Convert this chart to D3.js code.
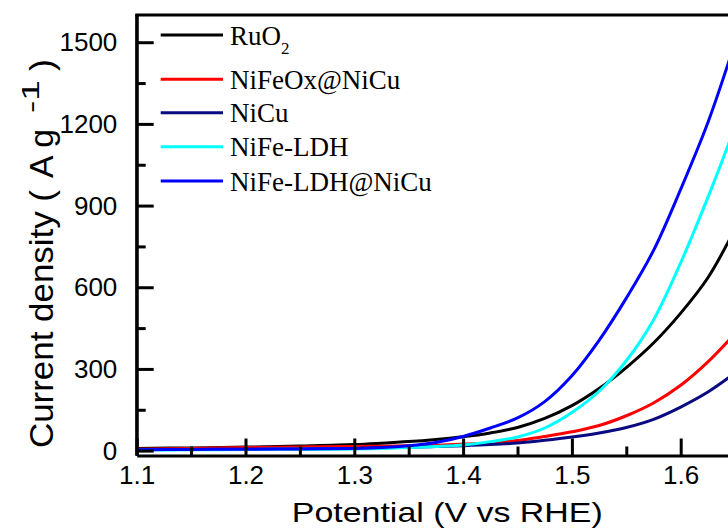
<!DOCTYPE html>
<html>
<head>
<meta charset="utf-8">
<script src="https://cdn.jsdelivr.net/npm/d3@7"></script>
<style>
  html, body { margin: 0; padding: 0; background: #fff; }
  svg { display: block; }
</style>
</head>
<body>
<svg id="chart" width="728" height="532"></svg>
<script>
// ---- data ----
const potential = [1.10, 1.15, 1.20, 1.25, 1.30, 1.325, 1.35, 1.375, 1.40, 1.425, 1.45, 1.475, 1.50, 1.525, 1.55, 1.575, 1.60, 1.625, 1.65];
const ruo2      = [8, 10, 13, 17, 22, 27, 33, 41, 51, 65, 85, 118, 165, 228, 305, 395, 505, 635, 815];
const nifeoxNiCu= [5, 8, 11, 13, 15, 16, 18, 20, 24, 28, 37, 52, 69, 92, 128, 175, 240, 326, 430];
const nicu      = [3, 4, 5, 6, 8, 10, 12, 15, 18, 22, 28, 38, 50, 65, 85, 115, 160, 215, 285];
const nifeLdh   = [2, 3, 4, 5, 6, 8, 11, 15, 21, 33, 50, 83, 140, 218, 330, 480, 690, 930, 1190];
const nifeLdhNiCu=[3, 4, 5, 6, 8, 11, 18, 30, 52, 83, 120, 180, 275, 405, 560, 735, 960, 1205, 1500];

const seriesNames  = ["RuO2", "NiFeOx@NiCu", "NiCu", "NiFe-LDH", "NiFe-LDH@NiCu"];
const seriesValues = [ruo2, nifeoxNiCu, nicu, nifeLdh, nifeLdhNiCu];
const seriesColors = ["#000000", "#ff0000", "#0a0a80", "#00ffff", "#0000ff"];

const xMajorTicks = [1.1, 1.2, 1.3, 1.4, 1.5, 1.6];
const xMinorTicks = [1.15, 1.25, 1.35, 1.45, 1.55, 1.65];
const yMajorTicks = [0, 300, 600, 900, 1200, 1500];
const yMinorTicks = [150, 450, 750, 1050, 1350];

// ---- layout ----
const svg = d3.select("#chart");
const mLeft = 136.7, mTop = 15, mBottom = 455.5;
const x = d3.scaleLinear().domain([1.1, 1.67]).range([mLeft, mLeft + 0.57 * 1088]);
const y = d3.scaleLinear().domain([-18, 1600]).range([mBottom, mTop]);

const sans = "'Liberation Sans', Arial, sans-serif";
const serif = "'Liberation Serif', 'Times New Roman', serif";

// clip
svg.append("defs").append("clipPath").attr("id", "plot")
  .append("rect").attr("x", mLeft).attr("y", mTop).attr("width", x.range()[1] - mLeft).attr("height", mBottom - mTop);

// curves
const line = d3.line().x(d => x(d[0])).y(d => y(d[1])).curve(d3.curveCatmullRom.alpha(0.5));
const gLines = svg.append("g").attr("clip-path", "url(#plot)");
seriesValues.forEach((vals, i) => {
  gLines.append("path")
    .datum(potential.map((p, j) => [p, vals[j]]))
    .attr("fill", "none")
    .attr("stroke", seriesColors[i])
    .attr("stroke-width", 3)
    .attr("d", line);
});

// axes
function styleAxis(g) {
  g.selectAll("path, line").attr("stroke", "#000").attr("stroke-width", 3);
  g.selectAll("text").attr("font-family", sans).attr("font-size", 26).attr("fill", "#000");
}
const xAxis = svg.append("g").attr("transform", `translate(0,${mBottom})`)
  .call(d3.axisBottom(x).tickValues(xMajorTicks).tickSize(-17).tickSizeOuter(0).tickPadding(10.5).tickFormat(d3.format(".1f")));
styleAxis(xAxis);
const xMinor = svg.append("g").attr("transform", `translate(0,${mBottom})`)
  .call(d3.axisBottom(x).tickValues(xMinorTicks).tickSize(-9).tickFormat(""));
styleAxis(xMinor);
xMinor.select(".domain").remove();

const yAxis = svg.append("g").attr("transform", `translate(${mLeft},0)`)
  .call(d3.axisLeft(y).tickValues(yMajorTicks).tickSize(-17).tickSizeOuter(0).tickPadding(19.4).tickFormat(d3.format("d")));
styleAxis(yAxis);
yAxis.selectAll("text").attr("dy", "0.33em");
const yMinor = svg.append("g").attr("transform", `translate(${mLeft},0)`)
  .call(d3.axisLeft(y).tickValues(yMinorTicks).tickSize(-9).tickFormat(""));
styleAxis(yMinor);
yMinor.select(".domain").remove();

// top frame
svg.append("line").attr("x1", mLeft - 1.5).attr("x2", 800).attr("y1", mTop).attr("y2", mTop)
  .attr("stroke", "#000").attr("stroke-width", 3);
svg.append("line").attr("x1", mLeft).attr("x2", mLeft).attr("y1", mTop).attr("y2", mBottom)
  .attr("stroke", "#000").attr("stroke-width", 3);

// axis titles
svg.append("text")
  .attr("transform", `translate(${(x.range()[0] + x.range()[1]) / 2 + 0.5},521.7) scale(1.19,1)`)
  .attr("text-anchor", "middle")
  .attr("font-family", sans).attr("font-size", 28.5).attr("fill", "#000")
  .text("Potential (V vs RHE)");

// y title: parts placed along the rotated axis
const yTitle = svg.append("g").attr("transform", "translate(53,448) rotate(-90)")
  .attr("font-family", sans).attr("fill", "#000");
const yParts = [
  { t: "Current density (", u: 0,   len: 258, size: 33, shift: 0 },
  { t: "A g",               u: 270, len: 49,  size: 33, shift: 0 },
  { t: "-1",                u: 335, len: 33,  size: 23, shift: -14 },
  { t: ")",                 u: 377, len: 12,  size: 33, shift: 0 }
];
yParts.forEach(p => {
  yTitle.append("text").attr("x", p.u).attr("y", p.shift)
    .attr("font-size", p.size)
    .attr("textLength", p.len).attr("lengthAdjust", "spacingAndGlyphs")
    .text(p.t);
});

// legend
const legendY = [35, 79.3, 112.7, 146.7, 181];
const lg = svg.append("g");
seriesNames.forEach((name, i) => {
  lg.append("line").attr("x1", 160.7).attr("x2", 223).attr("y1", legendY[i]).attr("y2", legendY[i])
    .attr("stroke", seriesColors[i]).attr("stroke-width", 3);
  const t = lg.append("text").attr("x", 230).attr("y", legendY[i] + 9.5)
    .attr("font-family", serif).attr("font-size", 27).attr("fill", "#000");
  if (name === "RuO2") {
    t.append("tspan").text("RuO");
    t.append("tspan").attr("dy", 9).attr("font-size", 17).text("2");
  } else {
    t.text(name);
  }
});
</script>
</body>
</html>
